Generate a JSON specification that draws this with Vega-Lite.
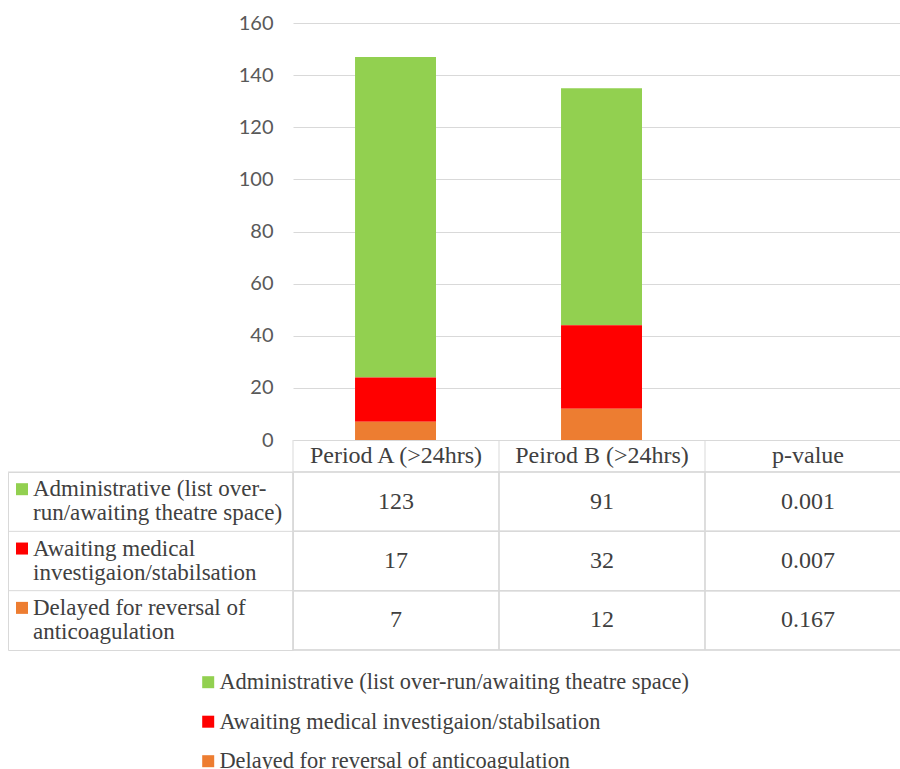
{
  "$schema": "https://vega.github.io/schema/vega-lite/v6.json",
  "autosize": {"type": "none"},
  "padding": {"left": 8, "top": 23, "right": 892, "bottom": 746},
  "datasets": {
    "delays": [
      {"cause": "Administrative (list over-run/awaiting theatre space)", "label": "Administrative (list over-\nrun/awaiting theatre space)", "Period A (>24hrs)": 123, "Peirod B (>24hrs)": 91, "p-value": "0.001"},
      {"cause": "Awaiting medical investigaion/stabilsation", "label": "Awaiting medical\ninvestigaion/stabilsation", "Period A (>24hrs)": 17, "Peirod B (>24hrs)": 32, "p-value": "0.007"},
      {"cause": "Delayed for reversal of anticoagulation", "label": "Delayed for reversal of\nanticoagulation", "Period A (>24hrs)": 7, "Peirod B (>24hrs)": 12, "p-value": "0.167"}
    ],
    "columns": [
      {"column": "Period A (>24hrs)"},
      {"column": "Peirod B (>24hrs)"},
      {"column": "p-value"}
    ]
  },
  "columns": 2,
  "align": "each",
  "bounds": "flush",
  "spacing": 0,
  "concat": [
    {
      "width": 285,
      "height": 417,
      "data": {"values": [{}]},
      "mark": {"type": "text", "text": ""}
    },
    {
      "width": 607,
      "height": 417,
      "data": {"name": "delays"},
      "transform": [
        {"fold": ["Period A (>24hrs)", "Peirod B (>24hrs)"], "as": ["period", "count"]}
      ],
      "mark": {"type": "bar"},
      "encoding": {
        "x": {
          "field": "period",
          "type": "nominal",
          "scale": {
            "domain": ["Period A (>24hrs)", "Peirod B (>24hrs)", "p-value"],
            "paddingInner": 0.607,
            "paddingOuter": 0.2768,
            "align": 0.544
          },
          "axis": {"labels": false, "ticks": false, "title": null, "domainColor": "#d9d9d9", "domainWidth": 1}
        },
        "y": {
          "field": "count",
          "type": "quantitative",
          "scale": {"domain": [0, 160], "nice": false},
          "axis": {
            "values": [0, 20, 40, 60, 80, 100, 120, 140, 160],
            "title": null,
            "domain": false,
            "ticks": false,
            "labelFont": "Lato",
            "labelFontSize": 20,
            "labelColor": "#595959",
            "labelPadding": 20,
            "gridColor": "#d9d9d9",
            "gridWidth": 1
          }
        },
        "color": {
          "field": "cause",
          "type": "nominal",
          "scale": {
            "domain": [
              "Administrative (list over-run/awaiting theatre space)",
              "Awaiting medical investigaion/stabilsation",
              "Delayed for reversal of anticoagulation"
            ],
            "range": ["#92D050", "#FF0000", "#ED7D31"]
          },
          "legend": {
            "orient": "none",
            "legendX": 189,
            "legendY": 648,
            "direction": "vertical",
            "title": null,
            "symbolType": "square",
            "symbolSize": 144,
            "symbolStrokeWidth": 0,
            "labelFont": "Liberation Serif",
            "labelFontSize": 22.4,
            "labelColor": "#404040",
            "labelLimit": 0,
            "labelOffset": 0,
            "rowPadding": 16.5
          }
        }
      }
    },
    {
      "width": 285,
      "height": 32,
      "data": {"values": [{}]},
      "mark": {"type": "text", "text": ""}
    },
    {
      "width": 607,
      "height": 32,
      "data": {"name": "columns"},
      "encoding": {
        "x": {
          "field": "column",
          "type": "nominal",
          "scale": {"domain": ["Period A (>24hrs)", "Peirod B (>24hrs)", "p-value"], "range": [0, 618], "paddingInner": 0, "paddingOuter": 0},
          "axis": null
        }
      },
      "layer": [
        {
          "mark": {"type": "rule", "color": "#d9d9d9", "strokeWidth": 1},
          "encoding": {"x": {"field": "column", "type": "nominal", "bandPosition": 0}}
        },
        {
          "mark": {"type": "text", "font": "Liberation Serif", "fontSize": 24, "color": "#404040", "baseline": "middle"},
          "encoding": {"text": {"field": "column", "type": "nominal"}}
        }
      ]
    },
    {
      "width": 285,
      "height": 178,
      "view": {"stroke": "#d9d9d9", "strokeWidth": 1},
      "data": {"name": "delays"},
      "encoding": {
        "y": {
          "field": "cause",
          "type": "nominal",
          "scale": {
            "domain": [
              "Administrative (list over-run/awaiting theatre space)",
              "Awaiting medical investigaion/stabilsation",
              "Delayed for reversal of anticoagulation"
            ],
            "paddingInner": 0,
            "paddingOuter": 0
          },
          "axis": null
        }
      },
      "layer": [
        {
          "mark": {"type": "rule", "color": "#d9d9d9", "strokeWidth": 1},
          "encoding": {"y": {"field": "cause", "type": "nominal", "bandPosition": 0}}
        },
        {
          "mark": {"type": "point", "shape": "square", "filled": true, "size": 144, "opacity": 1},
          "encoding": {
            "x": {"value": 14},
            "y": {"field": "cause", "type": "nominal", "bandPosition": 0.29},
            "color": {
              "field": "cause",
              "type": "nominal",
              "scale": {
                "domain": [
                  "Administrative (list over-run/awaiting theatre space)",
                  "Awaiting medical investigaion/stabilsation",
                  "Delayed for reversal of anticoagulation"
                ],
                "range": ["#92D050", "#FF0000", "#ED7D31"]
              }
            }
          }
        },
        {
          "mark": {"type": "text", "font": "Liberation Serif", "fontSize": 23, "color": "#404040", "align": "left", "baseline": "middle", "lineBreak": "\n", "lineHeight": 24},
          "encoding": {
            "x": {"value": 25},
            "y": {"field": "cause", "type": "nominal", "bandPosition": 0.29},
            "text": {"field": "label", "type": "nominal"}
          }
        }
      ]
    },
    {
      "width": 607,
      "height": 178,
      "data": {"name": "delays"},
      "transform": [
        {"fold": ["Period A (>24hrs)", "Peirod B (>24hrs)", "p-value"], "as": ["column", "cell"]}
      ],
      "encoding": {
        "x": {
          "field": "column",
          "type": "nominal",
          "scale": {"domain": ["Period A (>24hrs)", "Peirod B (>24hrs)", "p-value"], "range": [0, 618], "paddingInner": 0, "paddingOuter": 0},
          "axis": null
        },
        "y": {
          "field": "cause",
          "type": "nominal",
          "scale": {
            "domain": [
              "Administrative (list over-run/awaiting theatre space)",
              "Awaiting medical investigaion/stabilsation",
              "Delayed for reversal of anticoagulation"
            ],
            "paddingInner": 0,
            "paddingOuter": 0
          },
          "axis": null
        }
      },
      "layer": [
        {
          "mark": {"type": "rule", "color": "#d9d9d9", "strokeWidth": 1},
          "encoding": {"x": {"field": "column", "type": "nominal", "bandPosition": 0}, "y": null}
        },
        {
          "mark": {"type": "rule", "color": "#d9d9d9", "strokeWidth": 1},
          "encoding": {"x": null, "y": {"field": "cause", "type": "nominal", "bandPosition": 0}}
        },
        {
          "mark": {"type": "rule", "color": "#d9d9d9", "strokeWidth": 1},
          "encoding": {"x": null, "y": {"field": "cause", "type": "nominal", "bandPosition": 1}}
        },
        {
          "mark": {"type": "text", "font": "Liberation Serif", "fontSize": 24, "color": "#404040", "baseline": "middle"},
          "encoding": {"text": {"field": "cell", "type": "nominal"}}
        }
      ]
    }
  ],
  "config": {
    "font": "Liberation Serif",
    "view": {"stroke": null}
  }
}
